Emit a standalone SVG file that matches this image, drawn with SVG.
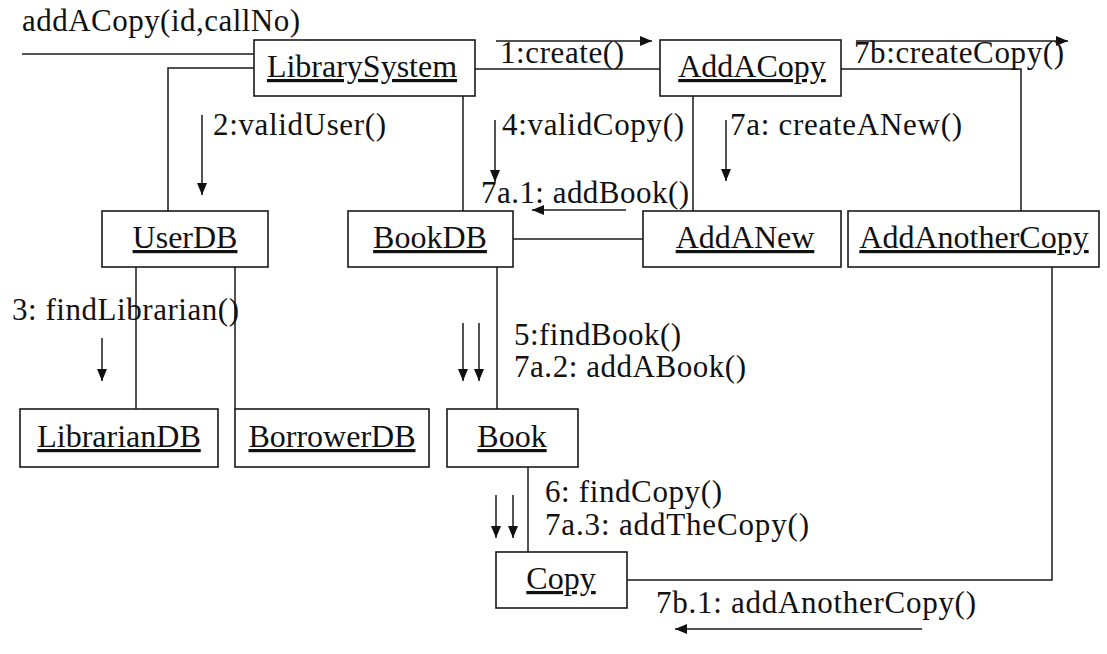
<svg xmlns="http://www.w3.org/2000/svg" width="1107" height="654" viewBox="0 0 1107 654">
<style>
.box{fill:#fff;stroke:#1a1a1a;stroke-width:1.6}
.lbl{font-family:"Liberation Serif","Times New Roman",serif;font-size:32px;fill:#111;text-anchor:middle;text-decoration:underline}
.msg{font-family:"Liberation Serif","Times New Roman",serif;font-size:31px;fill:#111}
.ln{fill:none;stroke:#1a1a1a;stroke-width:1.5}
.ar{fill:none;stroke:#1a1a1a;stroke-width:1.5;marker-end:url(#ah)}
</style>
<defs>
<marker id="ah" viewBox="0 0 12 10" refX="12" refY="5" markerWidth="12" markerHeight="10" markerUnits="userSpaceOnUse" orient="auto">
<path d="M0,0 L12,5 L0,10 z" fill="#111"/>
</marker>
</defs>
<rect width="1107" height="654" fill="#fff"/>
<g id="connectors">
<path class="ln" d="M22,54 H254"/>
<path class="ln" d="M254,68 H168 V211"/>
<path class="ln" d="M475,69 H660"/>
<path class="ln" d="M463,96 V211"/>
<path class="ln" d="M693,96 V211"/>
<path class="ln" d="M841,69 H1021 V211"/>
<path class="ln" d="M513,239 H643"/>
<path class="ln" d="M136,267 V409"/>
<path class="ln" d="M235,267 V409"/>
<path class="ln" d="M497,267 V409"/>
<path class="ln" d="M528,467 V552"/>
<path class="ln" d="M627,580 H1052 V267"/>
</g>
<g id="messages">
<text class="msg" x="22" y="31" textLength="278" lengthAdjust="spacing">addACopy(id,callNo)</text>
<path class="ar" d="M496,41 H652"/>
<text class="msg" x="500" y="63" textLength="124" lengthAdjust="spacing">1:create()</text>
<path class="ar" d="M856,41 H1068"/>
<text class="msg" x="854" y="63" textLength="210" lengthAdjust="spacing">7b:createCopy()</text>
<path class="ar" d="M202,115 V195"/>
<text class="msg" x="213" y="135" textLength="173" lengthAdjust="spacing">2:validUser()</text>
<path class="ar" d="M495,120 V182"/>
<text class="msg" x="502" y="135" textLength="182" lengthAdjust="spacing">4:validCopy()</text>
<path class="ar" d="M726,120 V181"/>
<text class="msg" x="730" y="135" textLength="232" lengthAdjust="spacing">7a: createANew()</text>
<path class="ar" d="M626,210 H532"/>
<text class="msg" x="481" y="203" textLength="208" lengthAdjust="spacing">7a.1: addBook()</text>
<path class="ar" d="M102,338 V381"/>
<text class="msg" x="12" y="320" textLength="227" lengthAdjust="spacing">3: findLibrarian()</text>
<path class="ar" d="M463,323 V381"/>
<path class="ar" d="M479,323 V381"/>
<text class="msg" x="514" y="345" textLength="167" lengthAdjust="spacing">5:findBook()</text>
<text class="msg" x="514" y="377" textLength="232" lengthAdjust="spacing">7a.2: addABook()</text>
<path class="ar" d="M496,495 V538"/>
<path class="ar" d="M513,495 V538"/>
<text class="msg" x="545" y="502" textLength="177" lengthAdjust="spacing">6: findCopy()</text>
<text class="msg" x="545" y="535" textLength="264" lengthAdjust="spacing">7a.3: addTheCopy()</text>
<path class="ar" d="M922,629 H675"/>
<text class="msg" x="656" y="613" textLength="320" lengthAdjust="spacing">7b.1: addAnotherCopy()</text>
</g>
<g id="LibrarySystem"><rect class="box" x="254" y="40" width="221" height="56"/><text class="lbl" x="362" y="77">LibrarySystem</text></g>
<g id="AddACopy"><rect class="box" x="660" y="40" width="181" height="56"/><text class="lbl" x="752" y="77">AddACopy</text></g>
<g id="UserDB"><rect class="box" x="102" y="211" width="166" height="56"/><text class="lbl" x="185" y="248">UserDB</text></g>
<g id="BookDB"><rect class="box" x="348" y="211" width="165" height="56"/><text class="lbl" x="430" y="248">BookDB</text></g>
<g id="AddANew"><rect class="box" x="643" y="211" width="198" height="56"/><text class="lbl" x="745" y="248">AddANew</text></g>
<g id="AddAnotherCopy"><rect class="box" x="848" y="211" width="251" height="56"/><text class="lbl" x="974" y="248">AddAnotherCopy</text></g>
<g id="LibrarianDB"><rect class="box" x="20" y="409" width="198" height="58"/><text class="lbl" x="119" y="447">LibrarianDB</text></g>
<g id="BorrowerDB"><rect class="box" x="235" y="409" width="194" height="58"/><text class="lbl" x="332" y="447">BorrowerDB</text></g>
<g id="Book"><rect class="box" x="447" y="409" width="131" height="58"/><text class="lbl" x="512" y="447">Book</text></g>
<g id="Copy"><rect class="box" x="496" y="552" width="131" height="56"/><text class="lbl" x="561" y="589">Copy</text></g>
</svg>
